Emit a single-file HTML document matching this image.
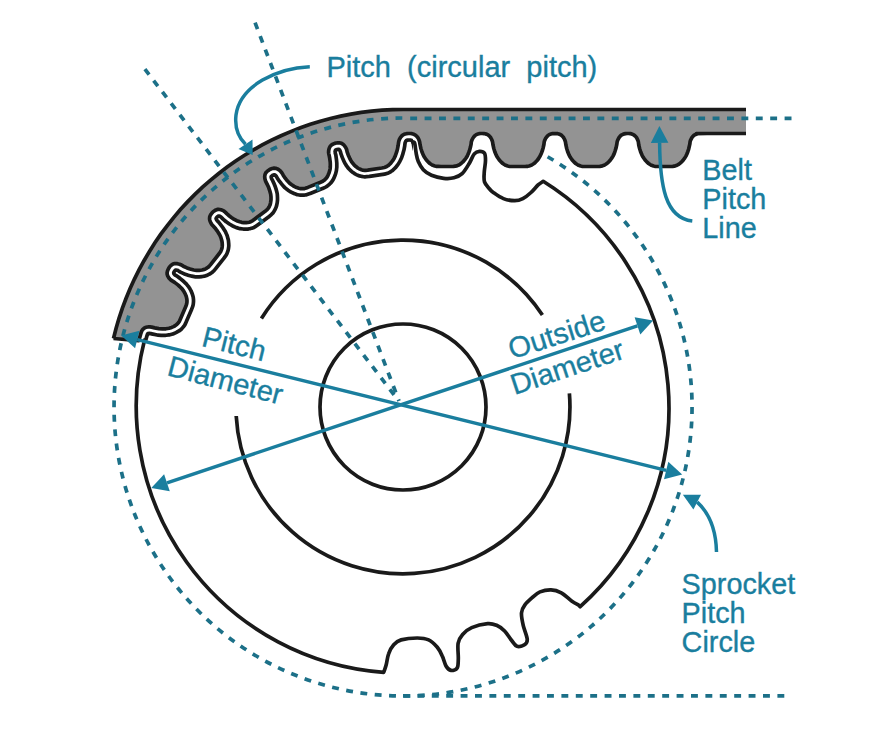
<!DOCTYPE html>
<html><head><meta charset="utf-8"><style>
html,body{margin:0;padding:0;background:#fff;}
body{width:883px;height:756px;overflow:hidden;position:relative;}
svg{position:absolute;left:0;top:0;display:block;}
</style></head><body>
<svg width="883" height="756" viewBox="0 0 883 756">
<rect width="883" height="756" fill="#fff"/>
<defs><clipPath id="cw"><path d="M403 407 L-565.1 156.6 L-536.7 65 L-463 -93 L-363 -235.8 L-239.8 -359 L-97 -459 L61 -532.7 L229.4 -577.8 L403 -593 L413 -600 L413 407Z"/></clipPath></defs>
<g clip-path="url(#cw)" fill="none" stroke-linejoin="round"><path d="M138.9 340.6 L140.7 334 L141.6 331.3 L142.3 330.1 L143.2 329.1 L144.2 328.2 L145.3 327.6 L146.3 327.3 L147.4 327 L148.8 326.9 L149.9 326.9 L151.6 327.1 L154.3 327.8 L158.4 328.6 L161.6 328.8 L165.4 328.8 L168.1 328.5 L170.9 327.7 L173.5 326.6 L175.7 325.3 L176.7 324.6 L177.7 323.5 L178.6 322.5 L179.3 321.4 L180.4 319 L185.6 306.9 L186.4 304.8 L186.8 303.5 L187 301.5 L187 300 L186.8 298.3 L186.2 296.2 L185.3 294 L184.4 292.3 L183.4 290.7 L182.3 289.3 L181.2 288 L179.1 286 L175.9 283.4 L173.4 281.6 L171.5 280.5 L170 279.2 L168.6 277.5 L168 276.6 L167.6 275.6 L167.3 274.6 L167.1 273.6 L167.2 272.5 L167.4 271.1 L167.9 269.7 L168.6 268.3 L169.5 267 L170.3 266.1 L171.7 264.8 L173.1 264 L174.1 263.7 L175.2 263.6 L177.1 263.6 L178.5 263.9 L180.1 264.4 L181.1 264.9 L183.3 266.2 L186.6 267.8 L189.7 268.9 L192.9 269.8 L195.5 270.3 L198.4 270.4 L201.2 270.1 L203.4 269.7 L205 269.1 L206.4 268.4 L208.1 267.3 L209.1 266.4 L210.8 264.4 L218.9 254.1 L220.7 251.6 L221.2 250.5 L221.8 248.8 L222.1 247.3 L222.3 245.6 L222.2 243.8 L222 241.5 L221.5 239.6 L221 237.8 L220.5 236.6 L219.8 235 L218.5 232.9 L217.4 231.1 L215.1 228.2 L213.7 226.4 L212.1 224.9 L211.3 223.7 L210.4 222 L209.8 220.2 L209.6 219.1 L209.6 218.1 L209.7 217.1 L209.9 216.3 L210.4 215.3 L210.9 214.3 L212.5 212.4 L213.7 211.4 L214.7 210.7 L215.7 210.1 L216.7 209.7 L217.7 209.4 L218.7 209.4 L220 209.5 L221.1 209.8 L222.9 210.5 L224.3 211.4 L225.4 212.2 L227.5 214.4 L230 216.5 L232.7 218.4 L235.9 220.3 L238.4 221.4 L241.1 222.2 L243.9 222.6 L246.6 222.7 L248.2 222.4 L249.7 222 L251.2 221.5 L252.4 220.8 L254.2 219.5 L265.3 211.2 L266.8 209.9 L267.9 208.8 L268.7 207.6 L269.4 206.3 L270.1 204.8 L270.4 203.5 L270.8 201.7 L271 199.8 L271 197.9 L270.9 196 L270.8 194.7 L270.4 193.1 L269.7 190.6 L269.1 188.7 L267.8 185.6 L266.9 183.6 L265.8 181.7 L265.3 180.4 L264.8 178.5 L264.7 176.5 L264.8 175.5 L265.1 174.5 L265.5 173.5 L265.9 172.8 L266.5 172 L267.4 171.2 L269.1 169.9 L270.5 169.2 L271.6 168.7 L272.7 168.4 L273.8 168.2 L274.9 168.2 L275.7 168.3 L276.7 168.6 L277.6 169 L279.3 170.1 L280.7 171.4 L281.7 172.7 L282.8 174.6 L284.3 176.9 L286.3 179.5 L287.6 181.1 L289.3 182.9 L290.6 184 L291.7 184.8 L293.3 185.9 L294.9 186.8 L297.1 187.7 L298.8 188.3 L300.5 188.6 L302 188.7 L303.8 188.6 L305 188.4 L307.8 187.4 L320 182.5 L322.5 181.4 L323.5 180.8 L325.1 179.4 L326.2 178.3 L327.2 176.9 L328.2 174.9 L329.3 172.3 L330 169.5 L330.3 166.9 L330.3 163.5 L330 160.3 L329.5 156.6 L328.8 154.1 L328.7 153 L328.6 151.3 L328.8 149.9 L329.3 148.1 L330.1 146.5 L331.1 145.3 L332.8 144.2 L334.1 143.6 L335.6 143.2 L337.2 142.9 L338.4 142.8 L339.8 142.9 L340.8 143.1 L341.8 143.5 L342.7 144 L343.5 144.7 L344.3 145.5 L345.1 146.6 L345.7 147.5 L346.5 149.3 L347.1 151.7 L348.2 154.8 L349.8 158.5 L351 160.7 L351.9 162.2 L353.3 164 L354.6 165.4 L355.9 166.6 L357.9 168 L359.4 168.9 L361 169.6 L362.6 170 L364.6 170.3 L366.1 170.2 L368.5 170 L381.8 168 L384.4 167.5 L385.5 167.1 L387 166.3 L388.3 165.5 L389.5 164.4 L391.1 162.8 L392.8 160.5 L394.3 158 L395.5 155.5 L396.7 151.8 L397.6 148.6 L398.3 144.9 L398.6 142.3 L398.8 141.2 L399.4 139.6 L400.1 138 L400.8 137.1 L401.5 136.2 L402.3 135.4 L403.2 134.8 L404.2 134.3 L405.3 133.9 L406.5 133.7 L408.1 133.5 L409.7 133.5 L411.3 133.6 L412.5 133.9 L413.9 134.3 L414.9 134.8 L415.8 135.4 L416.8 136.4 L417.7 137.5 L418.7 139.3 L419.4 140.9 L419.7 142.2 L420.1 144.9 L420.8 148.1 L421.8 151.3 L423 154.5 L424 156.5 L425.6 159 L427.1 160.9 L428.9 162.6" stroke="#1a1a1a" stroke-width="16.7"/><path d="M138.9 340.6 L140.7 334 L141.6 331.3 L142.3 330.1 L143.2 329.1 L144.2 328.2 L145.3 327.6 L146.3 327.3 L147.4 327 L148.8 326.9 L149.9 326.9 L151.6 327.1 L154.3 327.8 L158.4 328.6 L161.6 328.8 L165.4 328.8 L168.1 328.5 L170.9 327.7 L173.5 326.6 L175.7 325.3 L176.7 324.6 L177.7 323.5 L178.6 322.5 L179.3 321.4 L180.4 319 L185.6 306.9 L186.4 304.8 L186.8 303.5 L187 301.5 L187 300 L186.8 298.3 L186.2 296.2 L185.3 294 L184.4 292.3 L183.4 290.7 L182.3 289.3 L181.2 288 L179.1 286 L175.9 283.4 L173.4 281.6 L171.5 280.5 L170 279.2 L168.6 277.5 L168 276.6 L167.6 275.6 L167.3 274.6 L167.1 273.6 L167.2 272.5 L167.4 271.1 L167.9 269.7 L168.6 268.3 L169.5 267 L170.3 266.1 L171.7 264.8 L173.1 264 L174.1 263.7 L175.2 263.6 L177.1 263.6 L178.5 263.9 L180.1 264.4 L181.1 264.9 L183.3 266.2 L186.6 267.8 L189.7 268.9 L192.9 269.8 L195.5 270.3 L198.4 270.4 L201.2 270.1 L203.4 269.7 L205 269.1 L206.4 268.4 L208.1 267.3 L209.1 266.4 L210.8 264.4 L218.9 254.1 L220.7 251.6 L221.2 250.5 L221.8 248.8 L222.1 247.3 L222.3 245.6 L222.2 243.8 L222 241.5 L221.5 239.6 L221 237.8 L220.5 236.6 L219.8 235 L218.5 232.9 L217.4 231.1 L215.1 228.2 L213.7 226.4 L212.1 224.9 L211.3 223.7 L210.4 222 L209.8 220.2 L209.6 219.1 L209.6 218.1 L209.7 217.1 L209.9 216.3 L210.4 215.3 L210.9 214.3 L212.5 212.4 L213.7 211.4 L214.7 210.7 L215.7 210.1 L216.7 209.7 L217.7 209.4 L218.7 209.4 L220 209.5 L221.1 209.8 L222.9 210.5 L224.3 211.4 L225.4 212.2 L227.5 214.4 L230 216.5 L232.7 218.4 L235.9 220.3 L238.4 221.4 L241.1 222.2 L243.9 222.6 L246.6 222.7 L248.2 222.4 L249.7 222 L251.2 221.5 L252.4 220.8 L254.2 219.5 L265.3 211.2 L266.8 209.9 L267.9 208.8 L268.7 207.6 L269.4 206.3 L270.1 204.8 L270.4 203.5 L270.8 201.7 L271 199.8 L271 197.9 L270.9 196 L270.8 194.7 L270.4 193.1 L269.7 190.6 L269.1 188.7 L267.8 185.6 L266.9 183.6 L265.8 181.7 L265.3 180.4 L264.8 178.5 L264.7 176.5 L264.8 175.5 L265.1 174.5 L265.5 173.5 L265.9 172.8 L266.5 172 L267.4 171.2 L269.1 169.9 L270.5 169.2 L271.6 168.7 L272.7 168.4 L273.8 168.2 L274.9 168.2 L275.7 168.3 L276.7 168.6 L277.6 169 L279.3 170.1 L280.7 171.4 L281.7 172.7 L282.8 174.6 L284.3 176.9 L286.3 179.5 L287.6 181.1 L289.3 182.9 L290.6 184 L291.7 184.8 L293.3 185.9 L294.9 186.8 L297.1 187.7 L298.8 188.3 L300.5 188.6 L302 188.7 L303.8 188.6 L305 188.4 L307.8 187.4 L320 182.5 L322.5 181.4 L323.5 180.8 L325.1 179.4 L326.2 178.3 L327.2 176.9 L328.2 174.9 L329.3 172.3 L330 169.5 L330.3 166.9 L330.3 163.5 L330 160.3 L329.5 156.6 L328.8 154.1 L328.7 153 L328.6 151.3 L328.8 149.9 L329.3 148.1 L330.1 146.5 L331.1 145.3 L332.8 144.2 L334.1 143.6 L335.6 143.2 L337.2 142.9 L338.4 142.8 L339.8 142.9 L340.8 143.1 L341.8 143.5 L342.7 144 L343.5 144.7 L344.3 145.5 L345.1 146.6 L345.7 147.5 L346.5 149.3 L347.1 151.7 L348.2 154.8 L349.8 158.5 L351 160.7 L351.9 162.2 L353.3 164 L354.6 165.4 L355.9 166.6 L357.9 168 L359.4 168.9 L361 169.6 L362.6 170 L364.6 170.3 L366.1 170.2 L368.5 170 L381.8 168 L384.4 167.5 L385.5 167.1 L387 166.3 L388.3 165.5 L389.5 164.4 L391.1 162.8 L392.8 160.5 L394.3 158 L395.5 155.5 L396.7 151.8 L397.6 148.6 L398.3 144.9 L398.6 142.3 L398.8 141.2 L399.4 139.6 L400.1 138 L400.8 137.1 L401.5 136.2 L402.3 135.4 L403.2 134.8 L404.2 134.3 L405.3 133.9 L406.5 133.7 L408.1 133.5 L409.7 133.5 L411.3 133.6 L412.5 133.9 L413.9 134.3 L414.9 134.8 L415.8 135.4 L416.8 136.4 L417.7 137.5 L418.7 139.3 L419.4 140.9 L419.7 142.2 L420.1 144.9 L420.8 148.1 L421.8 151.3 L423 154.5 L424 156.5 L425.6 159 L427.1 160.9 L428.9 162.6" stroke="#fff" stroke-width="9.3"/></g>
<g fill="none" stroke="#1a1a1a" stroke-width="3.7" stroke-linejoin="round">
<circle cx="403.0" cy="407.0" r="83"/>
<path d="M261.4 318.5 A167 167 0 0 1 542.4 315.1"/>
<path d="M569.4 393.3 A167 167 0 1 1 236.2 416"/>
<path stroke-linecap="round" d="M413 142.4 C413.3 142.6 414.2 141.4 414.7 143.2 C415.2 145 415.6 150.2 416.2 153.3 C416.8 156.4 417.1 158.8 418.3 161.5 C419.5 164.2 421.1 167.4 423.3 169.7 C425.5 172 428.1 173.9 431.5 175.3 C434.9 176.7 440 177.9 443.7 178.3 C447.4 178.7 450.8 178.6 453.9 177.8 C457 177 459.6 176.1 462.1 173.7 C464.7 171.3 467.2 166.8 469.2 163.5 C471.2 160.2 472.6 155.9 474.3 153.9 C476 151.9 477.7 151.4 479.4 151.3 C481.1 151.2 483.5 151.8 484.5 153.3 C485.5 154.8 485.5 157.4 485.5 160.5 C485.5 163.6 484.5 168.1 484.3 171.7 C484.1 175.3 483.6 179 484.5 181.9 C485.4 184.8 488.1 187.2 489.6 189 C491.1 190.8 491 190.9 493.3 192.5 C495.6 194.1 499.8 197.2 503.4 198.6 C507 200 511.5 200.7 514.7 200.7 C517.9 200.7 520.1 200 522.8 198.6 C525.5 197.2 528.5 194.8 531 192.5 C533.5 190.2 536.1 186.8 538.1 184.9 C540.1 183 542.4 181.9 543.2 181.3 A267.0 267.0 0 0 1 580.2 606.7 L579 605.3  C577.8 604.6 574.6 603 571.6 600.9 C568.6 598.8 564.7 594.6 561.3 592.8 C557.9 591 554.5 590 551 589.9 C547.5 589.8 543 590.7 540 591.9 C537 593.1 535.4 594.8 532.9 597 C530.4 599.2 526.8 602.3 524.9 604.9 C523 607.5 521.8 609.4 521.5 612.8 C521.2 616.2 522.2 620.9 523.2 625.3 C524.2 629.6 526.9 635.7 527.2 638.9 C527.5 642.1 526.6 643.4 524.9 644.6 C523.2 645.8 519.3 647.1 517 646.3 C514.7 645.5 513.4 642.5 511.3 640 C509.2 637.5 507.1 633.5 504.6 631 C502.2 628.5 499.4 626.5 496.6 625.3 C493.8 624.1 491.8 623.2 487.6 623.6 C483.5 624 475.9 625.8 471.7 627.6 C467.5 629.4 464.9 631.8 462.6 634.4 C460.3 637 458.8 639.3 458.1 643.4 C457.4 647.5 458.5 654.9 458.3 659 C458.1 663.1 458.4 666 457.2 667.9 C456 669.8 452.9 670.7 451 670.4 C449.1 670.1 447.4 668.4 446 666 C444.6 663.6 443.8 659.2 442.3 656.1 C440.9 653 439.6 650 437.3 647.3 C435 644.6 431.9 641.4 428.6 639.9 C425.3 638.4 421.9 638 417.3 638 C412.7 638 405 638.8 401.1 639.9 C397.2 641 395.8 642.5 393.7 644.8 C391.6 647.1 389.9 650.3 388.7 653.6 C387.4 656.9 387 661.7 386.2 664.8 C385.4 667.9 384.1 671 383.7 672.3 A267.0 267.0 0 0 1 144.5 340.1"/>
</g>
<path d="M138.9 340.6 L140.7 334 L141.6 331.3 L142.3 330.1 L143.2 329.1 L144.2 328.2 L145.3 327.6 L146.3 327.3 L147.4 327 L148.8 326.9 L149.9 326.9 L151.6 327.1 L154.3 327.8 L158.4 328.6 L161.6 328.8 L165.4 328.8 L168.1 328.5 L170.9 327.7 L173.5 326.6 L175.7 325.3 L176.7 324.6 L177.7 323.5 L178.6 322.5 L179.3 321.4 L180.4 319 L185.6 306.9 L186.4 304.8 L186.8 303.5 L187 301.5 L187 300 L186.8 298.3 L186.2 296.2 L185.3 294 L184.4 292.3 L183.4 290.7 L182.3 289.3 L181.2 288 L179.1 286 L175.9 283.4 L173.4 281.6 L171.5 280.5 L170 279.2 L168.6 277.5 L168 276.6 L167.6 275.6 L167.3 274.6 L167.1 273.6 L167.2 272.5 L167.4 271.1 L167.9 269.7 L168.6 268.3 L169.5 267 L170.3 266.1 L171.7 264.8 L173.1 264 L174.1 263.7 L175.2 263.6 L177.1 263.6 L178.5 263.9 L180.1 264.4 L181.1 264.9 L183.3 266.2 L186.6 267.8 L189.7 268.9 L192.9 269.8 L195.5 270.3 L198.4 270.4 L201.2 270.1 L203.4 269.7 L205 269.1 L206.4 268.4 L208.1 267.3 L209.1 266.4 L210.8 264.4 L218.9 254.1 L220.7 251.6 L221.2 250.5 L221.8 248.8 L222.1 247.3 L222.3 245.6 L222.2 243.8 L222 241.5 L221.5 239.6 L221 237.8 L220.5 236.6 L219.8 235 L218.5 232.9 L217.4 231.1 L215.1 228.2 L213.7 226.4 L212.1 224.9 L211.3 223.7 L210.4 222 L209.8 220.2 L209.6 219.1 L209.6 218.1 L209.7 217.1 L209.9 216.3 L210.4 215.3 L210.9 214.3 L212.5 212.4 L213.7 211.4 L214.7 210.7 L215.9 210 L216.9 209.6 L218 209.4 L219 209.4 L220.3 209.6 L221.4 209.9 L222.9 210.5 L224.6 211.6 L225.4 212.2 L227.2 214.1 L229.7 216.2 L232 217.9 L234.5 219.5 L236.3 220.5 L238 221.2 L240.2 222 L242.1 222.4 L243.9 222.6 L245.8 222.7 L247 222.6 L248.6 222.4 L250 221.9 L251.5 221.4 L254.2 219.5 L264.8 211.6 L266.8 209.9 L267.7 209 L268.7 207.6 L269.4 206.3 L270.1 204.8 L270.6 202.6 L271 199.8 L271 197 L270.7 194.3 L269.7 190.6 L268.7 187.6 L267.3 184.5 L265.9 181.9 L265.4 180.6 L264.9 178.7 L264.7 176.5 L264.9 175.2 L265.2 174 L265.7 173 L266.5 172 L267.6 171 L269.1 169.9 L270.8 169 L272.2 168.5 L274.1 168.2 L275.7 168.3 L277.4 168.9 L279 169.9 L280.1 170.8 L281.2 172 L281.9 172.9 L283.2 175.2 L285.2 178.2 L287.3 180.8 L289.6 183.2 L291.7 184.8 L294.1 186.4 L296.6 187.6 L298.8 188.3 L300.5 188.6 L302 188.7 L304.1 188.6 L305.3 188.3 L307.8 187.4 L320 182.5 L322.8 181.3 L323.8 180.6 L324.9 179.7 L325.9 178.6 L326.7 177.6 L327.4 176.5 L328.2 174.9 L329 173.1 L329.4 171.8 L329.9 169.9 L330.2 167.7 L330.3 166 L330.3 163.5 L330.1 161.1 L329.8 158.6 L329.4 156.3 L328.7 153.3 L328.6 151.6 L328.7 150.2 L329 148.9 L329.4 147.9 L329.8 146.9 L330.4 146.1 L330.9 145.5 L331.8 144.8 L332.8 144.2 L333.9 143.7 L335.3 143.2 L336.6 143 L338.1 142.8 L339.2 142.8 L340.3 143 L341.3 143.3 L342.2 143.7 L343.1 144.3 L343.9 145.1 L344.6 145.9 L345.3 146.8 L346 148 L346.5 149.3 L347.1 151.7 L348.2 154.8 L349.3 157.4 L350.4 159.6 L352.1 162.5 L354.2 165 L355.6 166.3 L357.5 167.8 L359.1 168.7 L360.6 169.4 L362.2 169.9 L364.3 170.3 L365.6 170.3 L367.7 170.1 L381.8 168 L384.4 167.5 L385.5 167.1 L386.7 166.5 L388 165.7 L388.9 165 L390.8 163.1 L392.5 160.9 L394.1 158.4 L395.3 155.9 L396.6 152.2 L397.5 149 L398.1 145.7 L398.6 142.3 L398.9 140.9 L399.6 139 L400.8 137.1 L401.7 136 L402.7 135.1 L403.7 134.5 L405 134 L406.5 133.7 L408.4 133.5 L410.3 133.5 L411.9 133.7 L413.9 134.3 L415.4 135.1 L416.2 135.8 L417 136.6 L418.2 138.2 L418.8 139.5 L419.4 141.1 L419.7 142.2 L420.1 144.9 L420.9 148.5 L421.9 151.7 L423.2 154.9 L424.5 157.3 L426.2 159.7 L428.1 161.9 L429.9 163.5 L431.4 164.5 L432.8 165.3 L434.8 166 L436.1 166.3 L438.1 166.4 L441.2 166.5 L449.8 166.5 L453.5 166.4 L455.3 166.2 L456.5 165.9 L458.2 165.3 L460 164.3 L461.4 163.2 L462.9 161.9 L464.5 160.1 L465.7 158.5 L466.8 156.9 L467.6 155.3 L468.5 153.3 L469.4 150.9 L470.4 147.3 L471.1 144.2 L471.3 142 L471.9 140.1 L473 138 L474.2 136.4 L475 135.6 L475.9 134.9 L476.9 134.4 L477.9 134 L479.1 133.7 L480.7 133.5 L482.3 133.5 L483.9 133.6 L485.1 133.8 L486.2 134.1 L487.3 134.5 L488 134.9 L489.5 136.2 L490.3 137 L490.9 138 L491.7 139.5 L492.3 141.1 L492.6 142.2 L493 144.9 L493.8 148.5 L494.8 151.7 L496.1 154.9 L497.4 157.3 L499.1 159.7 L501 161.9 L502.8 163.5 L504.3 164.5 L505.7 165.3 L507.7 166 L509 166.3 L513.3 166.5 L525.8 166.4 L527.8 166.3 L529.1 166 L531.1 165.3 L532.5 164.5 L534 163.5 L535.4 162.3 L537.1 160.5 L538.3 159 L540.1 156.1 L541.5 152.9 L542.4 150.5 L543.2 147.7 L543.9 144.5 L544.2 142 L544.6 140.6 L545.2 139.3 L545.7 138.2 L546.4 137.3 L547.1 136.4 L547.9 135.6 L548.8 134.9 L549.8 134.4 L550.8 134 L552 133.7 L553.2 133.6 L554.9 133.5 L556.5 133.6 L557.7 133.7 L558.9 134 L560.7 134.8 L561.6 135.4 L562.4 136.2 L563.2 137 L563.8 138 L564.6 139.5 L565.2 141.1 L565.5 142.2 L565.9 144.9 L566.7 148.5 L567.7 151.7 L569 154.9 L570.3 157.3 L572 159.7 L573.9 161.9 L575.7 163.5 L577.2 164.5 L578.6 165.3 L580.6 166 L581.9 166.3 L586.2 166.5 L598 166.5 L599.8 166.4 L601.4 166.2 L602.6 165.8 L604 165.3 L605.4 164.5 L606.5 163.8 L607.9 162.6 L609.3 161.2 L610.6 159.7 L612.1 157.7 L613 156.1 L614 154.1 L615 151.3 L616 148.1 L616.7 144.9 L617.1 142.2 L617.4 140.9 L618.1 139.3 L619.1 137.5 L620 136.4 L621 135.4 L621.9 134.8 L622.9 134.3 L624.3 133.9 L625.5 133.6 L627.1 133.5 L629 133.5 L630.3 133.7 L631.5 133.9 L632.6 134.3 L633.6 134.8 L635.1 136 L635.9 136.8 L636.6 137.7 L637.4 139.3 L638.1 140.9 L638.4 142.2 L638.8 145.2 L639.6 148.5 L640.6 151.7 L642.1 155.3 L643.4 157.7 L645.2 160.1 L647.2 162.3 L649 163.8 L650.4 164.7 L651.9 165.4 L653.8 166.1 L655.2 166.3 L657.5 166.5 L660.8 166.5 L669.3 166.5 L672.7 166.4 L674.3 166.2 L675.5 165.8 L677.2 165.1 L678.7 164.3 L680.1 163.2 L681.6 161.9 L682.9 160.5 L684.1 159 L685.2 157.3 L686.1 155.7 L686.9 154.1 L687.9 151.3 L688.7 148.9 L689.2 146.8 L689.8 144.2 L690.1 141.7 L690.5 140.3 L691 139.3 L691.7 138 L692.3 137 L693.9 135.4 L694.8 134.8 L695.6 134.4 L697.6 133.7 L696.3 133.6 L707 133.5 L746 133.5 L746 109.5 L403 109.5 L392.5 109.7 L382.1 110.2 L371.6 111.2 L361.2 112.4 L350.9 114.1 L340.6 116.1 L330.4 118.5 L320.3 121.2 L310.3 124.3 L300.4 127.8 L290.6 131.6 L281 135.7 L271.5 140.1 L262.2 144.9 L253 150.1 L244.1 155.5 L235.3 161.3 L226.8 167.3 L218.4 173.7 L210.3 180.3 L202.5 187.2 L194.9 194.4 L187.5 201.9 L180.4 209.6 L173.6 217.6 L167.1 225.8 L160.8 234.2 L154.9 242.8 L149.3 251.7 L144 260.7 L139 269.9 L134.3 279.3 L130 288.8 L126 298.5 L122.3 308.3 L119 318.3 L116.1 328.3 L113.5 338.5Z" fill="#939393" stroke="none"/>
<path d="M113.5 338.5 L116.1 328.3 L119 318.3 L122.3 308.3 L126 298.5 L130 288.8 L134.3 279.3 L139 269.9 L144 260.7 L149.3 251.7 L154.9 242.8 L160.8 234.2 L167.1 225.8 L173.6 217.6 L180.4 209.6 L187.5 201.9 L194.9 194.4 L202.5 187.2 L210.3 180.3 L218.4 173.7 L226.8 167.3 L235.3 161.3 L244.1 155.5 L253 150.1 L262.2 144.9 L271.5 140.1 L281 135.7 L290.6 131.6 L300.4 127.8 L310.3 124.3 L320.3 121.2 L330.4 118.5 L340.6 116.1 L350.9 114.1 L361.2 112.4 L371.6 111.2 L382.1 110.2 L392.5 109.7 L403 109.5 L746 109.5" fill="none" stroke="#1a1a1a" stroke-width="3.7"/>
<path d="M113.5 338.5 L138.9 340.6 L140.7 334 L141.6 331.3 L142.3 330.1 L143.2 329.1 L144.2 328.2 L145.3 327.6 L146.3 327.3 L147.4 327 L148.8 326.9 L149.9 326.9 L151.6 327.1 L154.7 327.9 L158.8 328.6 L162.5 328.9 L165.9 328.8 L169 328.2 L171.7 327.4 L173.5 326.6 L174.7 326 L176.7 324.6 L178.4 322.7 L179.5 321.1 L180.4 319 L186.1 305.7 L186.6 304.1 L186.9 302.6 L187 300.7 L186.8 298.8 L186.2 296.2 L185.1 293.6 L183.7 291.1 L182.1 288.9 L179.7 286.5 L177.9 284.9 L174.6 282.4 L171 280.1 L169.8 279 L168.7 277.7 L167.8 276.1 L167.2 274.3 L167.1 272.8 L167.5 270.9 L168.1 269.5 L168.8 268.1 L169.9 266.5 L170.9 265.5 L172 264.6 L172.9 264.1 L174.1 263.7 L175.4 263.6 L177.4 263.7 L179.5 264.2 L180.8 264.7 L183.3 266.2 L187 267.9 L190.1 269 L193.7 270 L196.5 270.3 L199.3 270.3 L202.1 270 L204.2 269.4 L205.4 269 L206.7 268.2 L208.1 267.3 L209.1 266.4 L210.8 264.4 L219.3 253.5 L220.5 251.9 L220.9 251.1 L221.5 249.6 L222 248.1 L222.2 246.5 L222.3 245.2 L222.2 243.4 L222 241.5 L221.4 239.2 L220.7 237 L220 235.4 L218.7 233.2 L217.4 231.1 L215.7 228.8 L213.9 226.7 L211.8 224.4 L210.9 223 L210.2 221.5 L209.8 220.2 L209.6 219.1 L209.6 218.1 L209.7 217.1 L210 216 L210.5 215 L211.1 214.1 L211.9 213.1 L212.7 212.2 L213.9 211.2 L214.9 210.5 L215.9 210 L216.9 209.6 L217.7 209.4 L218.7 209.4 L219.8 209.5 L220.8 209.7 L221.9 210.1 L222.9 210.5 L224.1 211.2 L225.2 212.1 L227 213.9 L229.4 216 L231.7 217.7 L233.8 219.1 L236.7 220.7 L239.8 221.8 L241.6 222.3 L243.9 222.6 L246.2 222.7 L247.8 222.5 L249.3 222.2 L251.2 221.5 L252.4 220.8 L254.2 219.5 L264.8 211.6 L266.8 209.9 L267.7 209 L268.7 207.6 L269.4 206.3 L270.1 204.8 L270.6 202.6 L271 199.8 L271 197 L270.7 194.3 L269.7 190.6 L268.7 187.6 L267.3 184.5 L265.9 181.9 L265.4 180.6 L264.9 178.7 L264.7 176.5 L264.9 175.2 L265.2 174 L265.7 173 L266.5 172 L267.6 171 L269.1 169.9 L270.8 169 L272.2 168.5 L274.1 168.2 L275.7 168.3 L277.4 168.9 L279 169.9 L280.1 170.8 L281.2 172 L281.9 172.9 L283.2 175.2 L285.2 178.2 L287.3 180.8 L289.6 183.2 L291.7 184.8 L294.1 186.4 L296.6 187.6 L298.8 188.3 L300.5 188.6 L302 188.7 L304.1 188.6 L305.3 188.3 L307.8 187.4 L320 182.5 L322.8 181.3 L323.8 180.6 L325.1 179.4 L326.2 178.3 L327.2 176.9 L328 175.3 L329 173.1 L329.5 171.3 L330 169.5 L330.2 168.2 L330.3 166.4 L330.3 163.9 L330.2 161.9 L329.7 158.2 L329.3 156 L328.8 153.8 L328.6 152.4 L328.7 150.5 L329.1 148.6 L329.5 147.6 L330 146.7 L330.9 145.5 L331.8 144.8 L332.8 144.2 L334.7 143.4 L336.3 143 L337.8 142.8 L339.2 142.8 L340.3 143 L341.3 143.3 L342.2 143.7 L343.3 144.5 L344.1 145.3 L345.3 146.8 L346.2 148.5 L346.6 149.5 L347.2 152.1 L348.3 155.2 L349.5 157.8 L350.8 160.4 L351.9 162.2 L353 163.6 L354.6 165.4 L355.9 166.6 L357.5 167.8 L358.7 168.5 L359.8 169.1 L361.4 169.7 L362.9 170.1 L364.6 170.3 L365.6 170.3 L367.7 170.1 L381.8 168 L384.4 167.5 L385.5 167.1 L386.7 166.5 L388 165.7 L388.9 165 L390.8 163.1 L392.5 160.9 L394.1 158.4 L395.3 155.9 L396.6 152.2 L397.5 149 L398.1 145.7 L398.6 142.3 L398.9 140.9 L399.6 139 L400.8 137.1 L401.7 136 L402.7 135.1 L403.7 134.5 L405 134 L406.5 133.7 L408.4 133.5 L410.3 133.5 L411.9 133.7 L413.9 134.3 L415.4 135.1 L416.2 135.8 L417 136.6 L418.2 138.2 L418.8 139.5 L419.4 141.1 L419.7 142.2 L420.1 144.9 L420.9 148.5 L421.9 151.7 L423.2 154.9 L424.5 157.3 L426.2 159.7 L428.1 161.9 L429.9 163.5 L431.4 164.5 L432.8 165.3 L434.8 166 L436.1 166.3 L438.1 166.4 L441.2 166.5 L449.8 166.5 L453.5 166.4 L455.3 166.2 L456.5 165.9 L458.2 165.3 L460 164.3 L461.4 163.2 L462.9 161.9 L464.5 160.1 L465.7 158.5 L466.8 156.9 L467.6 155.3 L468.5 153.3 L469.4 150.9 L470.4 147.3 L471.1 144.2 L471.3 142 L471.9 140.1 L473 138 L474.2 136.4 L475 135.6 L475.9 134.9 L476.9 134.4 L477.9 134 L479.1 133.7 L480.7 133.5 L482.3 133.5 L483.9 133.6 L485.1 133.8 L486.2 134.1 L487.3 134.5 L488 134.9 L489.5 136.2 L490.3 137 L490.9 138 L491.7 139.5 L492.3 141.1 L492.6 142.2 L493 144.9 L493.8 148.5 L494.8 151.7 L496.1 154.9 L497.4 157.3 L499.1 159.7 L501 161.9 L502.8 163.5 L504.3 164.5 L505.7 165.3 L507.7 166 L509 166.3 L513.3 166.5 L525.8 166.4 L527.8 166.3 L529.1 166 L531.1 165.3 L532.5 164.5 L534 163.5 L535.4 162.3 L537.1 160.5 L538.3 159 L540.1 156.1 L541.5 152.9 L542.4 150.5 L543.2 147.7 L543.9 144.5 L544.2 142 L544.6 140.6 L545.2 139.3 L545.7 138.2 L546.4 137.3 L547.1 136.4 L547.9 135.6 L548.8 134.9 L549.8 134.4 L550.8 134 L552 133.7 L553.2 133.6 L554.9 133.5 L556.5 133.6 L557.7 133.7 L558.9 134 L560.7 134.8 L561.6 135.4 L562.4 136.2 L563.2 137 L563.8 138 L564.6 139.5 L565.2 141.1 L565.5 142.2 L565.9 144.9 L566.7 148.5 L567.7 151.7 L569 154.9 L570.3 157.3 L572 159.7 L573.9 161.9 L575.7 163.5 L577.2 164.5 L578.6 165.3 L580.6 166 L581.9 166.3 L586.2 166.5 L598 166.5 L599.8 166.4 L601.4 166.2 L602.6 165.8 L604 165.3 L605.4 164.5 L606.5 163.8 L607.9 162.6 L609.3 161.2 L610.6 159.7 L612.1 157.7 L613 156.1 L614 154.1 L615 151.3 L616 148.1 L616.7 144.9 L617.1 142.2 L617.4 140.9 L618.1 139.3 L619.1 137.5 L620 136.4 L621 135.4 L621.9 134.8 L622.9 134.3 L624.3 133.9 L625.5 133.6 L627.1 133.5 L629 133.5 L630.3 133.7 L631.5 133.9 L632.6 134.3 L633.6 134.8 L635.1 136 L635.9 136.8 L636.6 137.7 L637.4 139.3 L638.1 140.9 L638.4 142.2 L638.8 145.2 L639.6 148.5 L640.6 151.7 L642.1 155.3 L643.2 157.3 L644.9 159.7 L646.8 161.9 L648.6 163.5 L650.1 164.5 L651.5 165.3 L653.5 166 L654.8 166.3 L659.1 166.5 L670.1 166.5 L672.7 166.4 L674.3 166.2 L676.2 165.6 L677.6 164.9 L679 164.1 L680.5 162.9 L682.2 161.2 L683.5 159.7 L684.7 158.1 L685.9 156.1 L686.7 154.5 L687.8 151.7 L688.6 149.3 L689.2 146.8 L689.8 144.2 L690.1 141.7 L690.5 140.3 L691 139.3 L691.7 138 L692.3 137 L693.9 135.4 L694.8 134.8 L695.6 134.4 L697.6 133.7 L696.3 133.6 L707 133.5 L746 133.5" fill="none" stroke="#1a1a1a" stroke-width="3.7" stroke-linejoin="round"/>
<g fill="none" stroke="#1c7088" stroke-width="3.7" stroke-dasharray="6.9 7.5">
<path d="M144.9 69.1 L398 400"/>
<path d="M252.5 15.9 L399 401" stroke-dashoffset="-7.2"/>
<path d="M543.1 154.2 A289 289 0 1 1 403 118" stroke-dashoffset="-5.3"/>
<path d="M403 118.3 L792 118.3" stroke-dashoffset="7.2"/>
<path d="M403 695.8 L785 695.8"/>
</g>
<g fill="none" stroke="#1a7e9e" stroke-width="3.5">
<path d="M137.2 339.6 L666.2 470.4"/><path d="M121.2 335.6 L139.4 330.8 L135.1 348.3Z" fill="#1a7e9e" stroke="none"/><path d="M682.2 474.4 L664 479.2 L668.3 461.7Z" fill="#1a7e9e" stroke="none"/>
<path d="M167 482.8 L637.4 325.8"/><path d="M151.3 488 L164.1 474.2 L169.8 491.3Z" fill="#1a7e9e" stroke="none"/><path d="M653.1 320.6 L640.3 334.4 L634.6 317.3Z" fill="#1a7e9e" stroke="none"/>
<path d="M309.8 66.7 C278 68 240 85 236 115 C234.5 128 239 138 245.5 144.35"/>
<path d="M252.7 155 L238.5 149.1 L252.5 139.6Z" fill="#1a7e9e" stroke="none"/>
<path d="M659.6 142.8 C660 185 665 218 692.3 221"/>
<path d="M659.4 125.9 L668.4 142.7 L650.8 142.9Z" fill="#1a7e9e" stroke="none"/>
<path d="M697.2 502.1 C708 512 716 528 716.5 552"/>
<path d="M682.9 494.7 L701 494.7 L693.4 509.5Z" fill="#1a7e9e" stroke="none"/>
</g>
<g fill="#1a7e9e" stroke="#1a7e9e" stroke-width="0.35" font-family='"Liberation Sans", sans-serif' font-size="28.8">
<text x="326.5" y="76.9" font-size="29" xml:space="preserve">Pitch  (circular  pitch)</text>
<text x="702.3" y="179.8">Belt</text>
<text x="702.3" y="208.9">Pitch</text>
<text x="702.3" y="238">Line</text>
<text x="681.6" y="594.3">Sprocket</text>
<text x="681.6" y="623.2">Pitch</text>
<text x="681.6" y="652.4">Circle</text>
<text transform="translate(200.5,345.7) rotate(14)" font-size="29">Pitch</text>
<text transform="translate(166,375) rotate(14.6)" font-size="29">Diameter</text>
<text transform="translate(512,359.2) rotate(-17.6)" font-size="29">Outside</text>
<text transform="translate(514.5,395) rotate(-18.4)" font-size="29">Diameter</text>
</g>
</svg>
</body></html>
